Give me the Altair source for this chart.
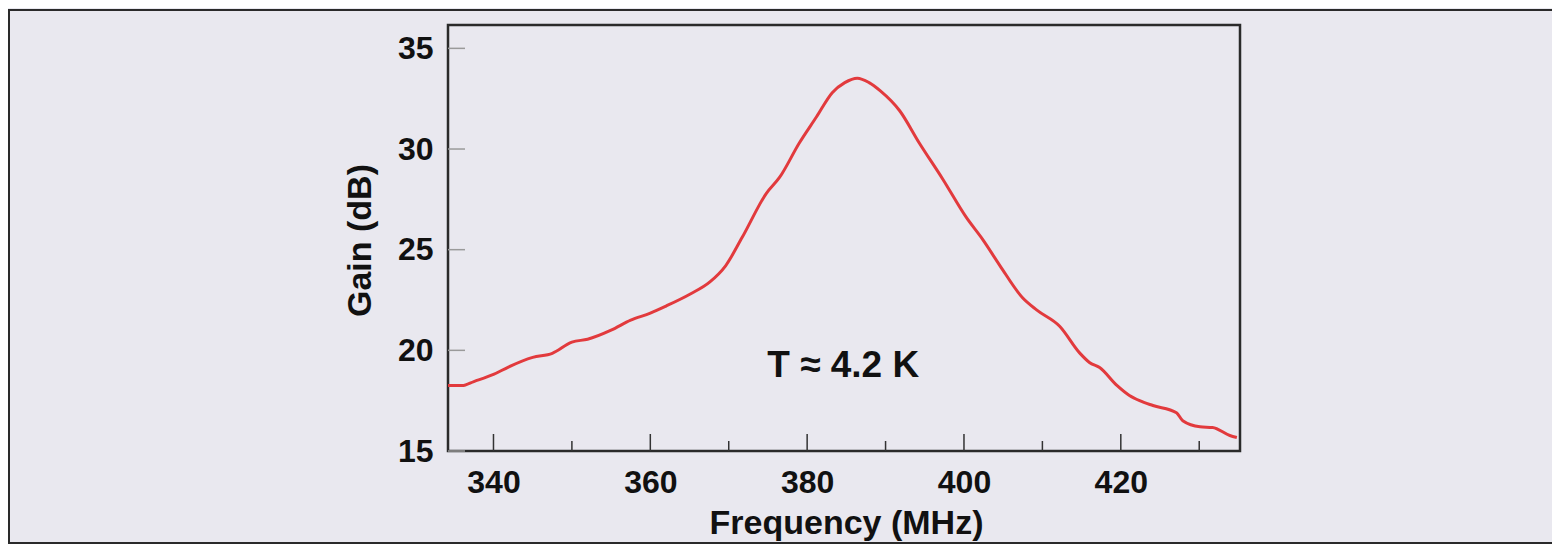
import altair as alt
import pandas as pd

# ---- data ----
freq = [334.2, 336.0, 337.5, 340.0, 341.9, 345.0, 347.5, 350.0, 352.0, 355.0,
        357.5, 360.0, 362.0, 365.1, 367.6, 369.6, 371.7, 374.8, 376.5, 379.0,
        381.2, 383.2, 384.8, 386.4, 387.9, 389.3, 391.8, 394.3, 397.3, 400.3,
        402.4, 404.6, 407.5, 409.3, 412.2, 414.8, 416.0, 417.3, 419.5, 421.1,
        422.4, 424.1, 427.1, 427.9, 430.1, 431.7, 433.9, 434.8]
gain = [18.25, 18.25, 18.45, 18.8, 19.17, 19.65, 19.85, 20.41, 20.55, 21.0,
        21.5, 21.85, 22.2, 22.8, 23.4, 24.2, 25.6, 27.8, 28.6, 30.3,
        31.6, 32.8, 33.3, 33.52, 33.3, 32.9, 31.9, 30.3, 28.5, 26.6,
        25.5, 24.2, 22.6, 22.0, 21.2, 19.85, 19.4, 19.15, 18.26, 17.76,
        17.5, 17.26, 16.9, 16.5, 16.2, 16.17, 15.77, 15.67]
x_major = [340, 360, 380, 400, 420]
x_minor = [350, 370, 390, 410, 430]
y_ticks = [15, 20, 25, 30, 35]
note_text = ["T \u2248 4.2 K"]
note_x = [384.6]
note_y = [19.2]

W, H = 792, 426
FONT = "Liberation Sans"
BG = "#e9e8ef"

xs = alt.Scale(domain=[334.2, 435.2], nice=False, zero=False)
ys = alt.Scale(domain=[15, 36.16], nice=False, zero=False)

x_axis = alt.Axis(values=x_major, title="Frequency (MHz)",
                  labelPadding=16, titleX=398, titleY=82,
                  titleAlign="center", titleBaseline="alphabetic")
y_axis = alt.Axis(values=y_ticks, title="Gain (dB)",
                  labelPadding=15, titleX=-78, titleY=215,
                  titleAngle=270, titleAlign="center",
                  titleBaseline="alphabetic")

df = pd.DataFrame({"f": freq, "g": gain})

frame = alt.Chart(pd.DataFrame({"a": [0]})).mark_rect(
    fillOpacity=0, stroke="#2a2a2a", strokeWidth=2
).encode(
    x=alt.value(-439), x2=alt.value(W + 400),
    y=alt.value(-15), y2=alt.value(H + 92),
)

line = alt.Chart(df).mark_line(color="#e23a3d", strokeWidth=3,
                               interpolate="monotone").encode(
    x=alt.X("f:Q", scale=xs, axis=x_axis),
    y=alt.Y("g:Q", scale=ys, axis=y_axis),
)

xmaj = alt.Chart(pd.DataFrame({"f": x_major})).mark_rule(
    color="#333", strokeWidth=1.5
).encode(x=alt.X("f:Q", scale=xs, axis=x_axis), y=alt.value(H), y2=alt.value(H - 17))

xmin = alt.Chart(pd.DataFrame({"f": x_minor})).mark_rule(
    color="#333", strokeWidth=1.5
).encode(x=alt.X("f:Q", scale=xs, axis=x_axis), y=alt.value(H), y2=alt.value(H - 10))

yt = alt.Chart(pd.DataFrame({"g": y_ticks})).mark_rule(
    color="#9a9a9a", strokeWidth=1.5
).encode(y=alt.Y("g:Q", scale=ys, axis=y_axis), x=alt.value(0), x2=alt.value(17))

note = alt.Chart(pd.DataFrame({"f": note_x, "g": note_y, "t": note_text})).mark_text(
    font=FONT, fontWeight="bold", fontSize=37, align="center",
    baseline="middle", color="#111"
).encode(x=alt.X("f:Q", scale=xs, axis=x_axis),
         y=alt.Y("g:Q", scale=ys, axis=y_axis), text="t:N")

chart = alt.layer(frame, yt, xmaj, xmin, line, note).properties(
    width=W, height=H,
    padding={"left": 440, "top": 17, "right": 312, "bottom": 93},
    autosize=alt.AutoSizeParams(type="none"),
    background=BG,
).configure_view(
    stroke="#2a2a2a", strokeWidth=2.5
).configure_axis(
    labelFont=FONT, labelFontWeight="bold", labelFontSize=32, labelColor="#111",
    titleFont=FONT, titleFontWeight="bold", titleFontSize=34, titleColor="#111",
    ticks=False, domain=False, grid=False,
)

chart.save("out.html", embed_options={"renderer": "svg", "actions": False})
